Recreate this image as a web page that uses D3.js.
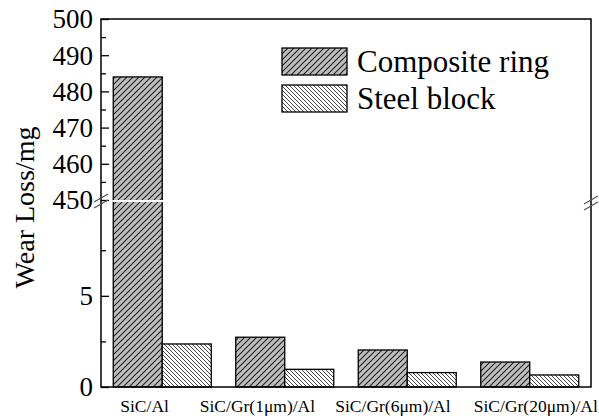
<!DOCTYPE html>
<html>
<head>
<meta charset="utf-8">
<script src="https://cdn.jsdelivr.net/npm/d3@7"></script>
<style>
  html, body { margin: 0; padding: 0; background: #fff; }
  svg { display: block; }
  text { font-family: "Liberation Serif", "DejaVu Serif", serif; fill: #000; }
</style>
</head>
<body>
<svg id="chart" width="599" height="419"></svg>
<script>
// ---- data ----
const categories = ["SiC/Al", "SiC/Gr(1\u03bcm)/Al", "SiC/Gr(6\u03bcm)/Al", "SiC/Gr(20\u03bcm)/Al"];
const seriesNames = ["Composite ring", "Steel block"];
const compositeRing = [484, 2.73, 2.03, 1.37];
const steelBlock = [2.36, 0.97, 0.79, 0.66];
const upperTicks = [450, 460, 470, 480, 490, 500];
const upperMinorTicks = [455, 465, 475, 485, 495];
const lowerTicks = [0, 5];
const lowerMinorTicks = [2.5, 7.5];
const yLabel = "Wear Loss/mg";

// ---- layout ----
const svg = d3.select("#chart");
const pLeft = 101, pRight = 591, pTop = 19, pBottom = 387, breakY = 200;
const labelDx = [7, -36, -23, -7];

const x0 = d3.scaleBand().domain(categories).range([pLeft, pRight]).paddingInner(0.2).paddingOuter(0.1);
const x1 = d3.scaleBand().domain(seriesNames).range([0, x0.bandwidth()]);
const yUp = d3.scaleLinear().domain([450, 500]).range([breakY, pTop]);
const yLo = d3.scaleLinear().domain([0, 10.2]).range([pBottom, breakY + 1]);
const lowMax = yLo.domain()[1];

// patterns
const defs = svg.append("defs");
const p1 = defs.append("pattern").attr("id", "pComp").attr("patternUnits", "userSpaceOnUse")
  .attr("width", 6).attr("height", 6);
p1.append("rect").attr("width", 6).attr("height", 6).attr("fill", "#bdbdbd");
p1.append("path").attr("d", "M0,6 L6,0 M-1,1 L1,-1 M5,7 L7,5")
  .attr("stroke", "#222").attr("stroke-width", 1.1);
const p2 = defs.append("pattern").attr("id", "pSteel").attr("patternUnits", "userSpaceOnUse")
  .attr("width", 4).attr("height", 4);
p2.append("rect").attr("width", 4).attr("height", 4).attr("fill", "#fff");
p2.append("path").attr("d", "M0,0 L4,4 M-1,3 L1,5 M3,-1 L5,1")
  .attr("stroke", "#333").attr("stroke-width", 0.9);
const fills = { "Composite ring": "url(#pComp)", "Steel block": "url(#pSteel)" };

// bars
const rows = [];
categories.forEach((c, i) => {
  rows.push({ cat: c, s: seriesNames[0], v: compositeRing[i] });
  rows.push({ cat: c, s: seriesNames[1], v: steelBlock[i] });
});
const gBars = svg.append("g");
rows.forEach(d => {
  const bx = x0(d.cat) + x1(d.s), bw = x1.bandwidth();
  if (d.v <= lowMax) {
    gBars.append("rect").attr("x", bx).attr("y", yLo(d.v)).attr("width", bw)
      .attr("height", yLo(0) - yLo(d.v)).attr("fill", fills[d.s])
      .attr("stroke", "#000").attr("stroke-width", 1.3);
  } else {
    gBars.append("rect").attr("x", bx).attr("y", yUp(d.v)).attr("width", bw)
      .attr("height", yLo(0) - yUp(d.v)).attr("fill", fills[d.s])
      .attr("stroke", "#000").attr("stroke-width", 1.3);
    gBars.append("line").attr("x1", bx - 1).attr("x2", bx + bw + 1)
      .attr("y1", breakY + 1).attr("y2", breakY + 1)
      .attr("stroke", "#fff").attr("stroke-width", 2.2);
  }
});

// frame
svg.append("rect").attr("x", pLeft).attr("y", pTop).attr("width", pRight - pLeft).attr("height", pBottom - pTop)
  .attr("fill", "none").attr("stroke", "#000").attr("stroke-width", 1.5);

// axes (ticks inward)
const axUp = d3.axisRight(yUp).tickValues(upperTicks).tickSize(8).tickFormat("");
const axUpMin = d3.axisRight(yUp).tickValues(upperMinorTicks).tickSize(5).tickFormat("");
const axLo = d3.axisRight(yLo).tickValues(lowerTicks).tickSize(8).tickFormat("");
const axLoMin = d3.axisRight(yLo).tickValues(lowerMinorTicks).tickSize(5).tickFormat("");
[axUp, axUpMin, axLo, axLoMin].forEach(ax => {
  const g = svg.append("g").attr("transform", `translate(${pLeft},0)`).call(ax);
  g.select(".domain").remove();
  g.selectAll("line").attr("stroke", "#000").attr("stroke-width", 1.3);
});

// tick labels
const gl = svg.append("g");
upperTicks.forEach(t => {
  gl.append("text").attr("x", 93).attr("y", yUp(t)).attr("dy", "0.35em")
    .attr("text-anchor", "end").attr("font-size", 27).text(t);
});
lowerTicks.forEach(t => {
  gl.append("text").attr("x", 93).attr("y", yLo(t)).attr("dy", "0.35em")
    .attr("text-anchor", "end").attr("font-size", 27).text(t);
});

// break marks
function breakMark(cx, cy) {
  [-3, 3].forEach(o => {
    svg.append("line").attr("x1", cx - 7).attr("y1", cy + o + 4).attr("x2", cx + 7).attr("y2", cy + o - 4)
      .attr("stroke", "#555").attr("stroke-width", 1.3);
  });
}
breakMark(pLeft, breakY + 1);
breakMark(pRight, breakY + 3);

// x labels
categories.forEach((c, i) => {
  svg.append("text").attr("x", x0(c) + labelDx[i]).attr("y", 412)
    .attr("font-size", 17.5).attr("text-anchor", "start").text(c);
});

// y label
svg.append("text").attr("transform", `translate(34,${(125 + 290) / 2}) rotate(-90)`)
  .attr("text-anchor", "middle").attr("font-size", 28).text(yLabel);

// legend
const lg = svg.append("g");
seriesNames.forEach((s, i) => {
  const yy = 48 + i * 37;
  lg.append("rect").attr("x", 282).attr("y", yy).attr("width", 65).attr("height", 27)
    .attr("fill", fills[s]).attr("stroke", "#000").attr("stroke-width", 1.3);
  lg.append("text").attr("x", 357).attr("y", yy + 24).attr("font-size", 31).text(s);
});
</script>
</body>
</html>
